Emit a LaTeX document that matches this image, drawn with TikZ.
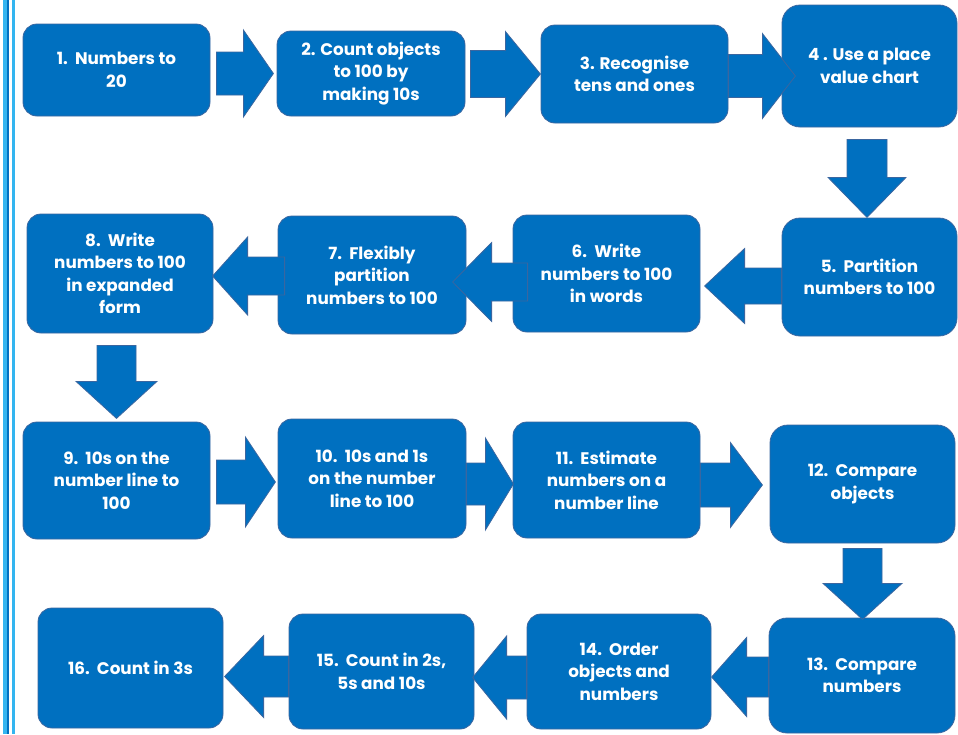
\documentclass[tikz,border=0pt]{standalone}
\usepackage{fontspec}
\setmainfont{Poppins}
\usetikzlibrary{calc}
\definecolor{boxblue}{HTML}{0070C0}
\definecolor{edgeblue}{HTML}{3A66A0}
\definecolor{cyanline}{HTML}{33B5F0}
\tikzset{
  stepbox/.style={draw=edgeblue, fill=boxblue, line width=0.8pt, rounded corners=14pt,
    text=white, align=center, inner sep=0pt,
    font=\fontsize{16.8}{22.5}\selectfont\bfseries},
  blockarr/.style={draw=edgeblue, fill=boxblue, line width=0.8pt, line join=miter}
}
% #1 tail point, #2 angle, #3 length, #4 body half width, #5 head half width, #6 head length
\newcommand\blockarrow[6]{%
  \draw[blockarr, shift={#1}, rotate=#2]
    (0,-#4) -- ({#3-#6},-#4) -- ({#3-#6},-#5) -- (#3,0) -- ({#3-#6},#5) -- ({#3-#6},#4) -- (0,#4) -- cycle;}
\begin{document}
\begin{tikzpicture}[x=1pt,y=-1pt]
\useasboundingbox (0,0) rectangle (958,734);
\fill[white] (0,0) rectangle (958,734);
% left border lines
\fill[cyanline] (3.3,0) rectangle (6.7,734);
\fill[boxblue] (6.7,0) rectangle (9.3,734);
\fill[cyanline] (12,0) rectangle (15.3,734);

% boxes
\node[stepbox, minimum width=187pt, minimum height=92pt]  (b1)  at (116.5,70)  {1.\ \ Numbers to\\20};
\node[stepbox, minimum width=188pt, minimum height=85pt]  (b2)  at (371,73.5)  {2. Count objects\\to 100 by\\making 10s};
\node[stepbox, minimum width=187pt, minimum height=98pt]  (b3)  at (634.5,74)  {3. Recognise\\tens and ones};
\node[stepbox, minimum width=175pt, minimum height=122pt, rounded corners=18pt] (b4) at (869.5,66) {4 . Use a place\\value chart};
\node[stepbox, minimum width=175pt, minimum height=118pt, rounded corners=18pt] (b5) at (869.5,277) {5.\ \ Partition\\numbers to 100};
\node[stepbox, minimum width=187pt, minimum height=117pt] (b6)  at (606.5,273.5) {6.\ \ Write\\numbers to 100\\in words};
\node[stepbox, minimum width=188pt, minimum height=118pt] (b7)  at (372,275)   {7.\ \ Flexibly\\partition\\numbers to 100};
\node[stepbox, minimum width=186pt, minimum height=119pt] (b8)  at (120,273.5) {8.\ \ Write\\numbers to 100\\in expanded\\form};
\node[stepbox, minimum width=187pt, minimum height=117pt] (b9)  at (116.5,480.5) {9.\ \ 10s on the\\number line to\\100};
\node[stepbox, minimum width=188pt, minimum height=119pt] (b10) at (372,478.5) {10.\ \ 10s and 1s\\on the number\\line to 100};
\node[stepbox, minimum width=187pt, minimum height=116pt] (b11) at (606.5,480) {11.\ \ Estimate\\numbers on a\\number line};
\node[stepbox, minimum width=185pt, minimum height=118pt, rounded corners=18pt] (b12) at (862.5,484) {12.\ \ Compare\\objects};
\node[stepbox, minimum width=186pt, minimum height=115pt, rounded corners=18pt] (b13) at (862,675.5) {13.\ \ Compare\\numbers};
\node[stepbox, minimum width=184pt, minimum height=115pt] (b14) at (619,671.5) {14.\ \ Order\\objects and\\numbers};
\node[stepbox, minimum width=185pt, minimum height=115pt] (b15) at (381.5,671.5) {15.\ \ Count in 2s,\\5s and 10s};
\node[stepbox, minimum width=185pt, minimum height=120pt] (b16) at (130.5,668) {16.\ \ Count in 3s};

% block arrows
\blockarrow{($(b1.east)+(6,3.5)$)}{0}{57}{21.5}{43.5}{30}
\blockarrow{($(b2.east)+(5,0.5)$)}{0}{70}{23.5}{42.5}{35}
\blockarrow{($(b3.east)+(0,2)$)}{0}{67}{21.5}{42.5}{33}
\blockarrow{($(b4.south)+(-2.5,12)$)}{-90}{78}{20}{39}{40}
\blockarrow{($(b5.west)+(0,9)$)}{180}{77}{18}{37.5}{40}
\blockarrow{($(b6.west)+(15,8.5)$)}{180}{75}{19}{39.5}{39}
\blockarrow{($(b7.west)+(7,1)$)}{180}{72}{19}{39}{35}
\blockarrow{($(b8.south)+(-3.5,12)$)}{-90}{73}{19.5}{40.5}{37}
\blockarrow{($(b9.east)+(6,1.5)$)}{0}{59}{22}{45}{30}
\blockarrow{($(b10.east)+(0,5.5)$)}{0}{47}{21}{46}{28}
\blockarrow{($(b11.east)+(0,5)$)}{0}{62}{22}{42.5}{32}
\blockarrow{($(b12.south)+(0,5)$)}{-90}{71}{19.5}{39.5}{36}
\blockarrow{($(b13.west)+(0,1.5)$)}{180}{57}{20}{39.5}{35}
\blockarrow{($(b14.west)+(0,6)$)}{180}{54}{21.5}{41.5}{34}
\blockarrow{($(b15.west)+(0,5)$)}{180}{64}{20.5}{41}{39}
\end{tikzpicture}
\end{document}
